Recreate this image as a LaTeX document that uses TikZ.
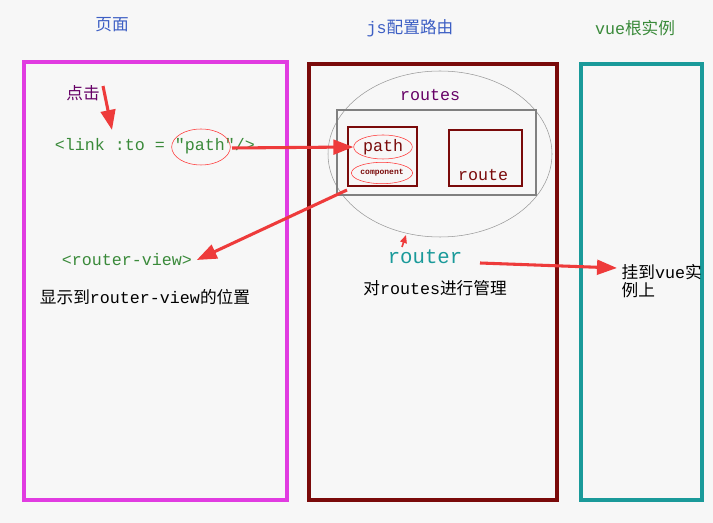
\documentclass[tikz,border=0pt]{standalone}
\usepackage{fontspec}
\setmonofont{Liberation Mono}
\newfontfamily\cjk{Noto Sans CJK SC}
\usetikzlibrary{arrows.meta, positioning, shapes.geometric}

\begin{document}
\begin{tikzpicture}[x=0.75pt, y=-0.75pt,
    panel_style/.style={draw, line width=2.5pt},
    box_style/.style={draw=darkred, line width=2.2pt},
    mono_style/.style={font=\ttfamily\fontsize{12.5}{14}\selectfont},
    cjk_style/.style={font=\cjk\fontsize{12.5}{14}\selectfont},
    ring_style/.style={ellipse, draw=red!80, thin, inner sep=0pt},
    red_arrow/.style={draw=arrowred, line width=2.3pt, -{Triangle[length=15pt, width=11pt]}}
]
\definecolor{darkred}{HTML}{7A0A0A}
\definecolor{arrowred}{HTML}{EE3B3B}
\definecolor{titleblue}{HTML}{3D5FC4}
\definecolor{titlegreen}{HTML}{3A8A3A}
\definecolor{codegreen}{HTML}{3A8A3A}
\definecolor{routerteal}{HTML}{1A9A9A}

% background
\fill[gray!6] (0,0) rectangle (713,523);
\useasboundingbox (0,0) rectangle (713,523);

% titles
\node[cjk_style, text=titleblue] (t_page) at (112,25) {页面};
\node[text=titleblue, font=\fontsize{12.5}{14}\selectfont] (t_js) at (410,28) {{\ttfamily js}{\cjk 配置路由}};
\node[text=titlegreen, font=\fontsize{12.5}{14}\selectfont] (t_vue) at (635,28) {{\ttfamily vue}{\cjk 根实例}};

% three panels
\draw[panel_style, draw={rgb,255:red,225;green,60;blue,225}] (24,62) rectangle (287,500);
\draw[panel_style, draw=darkred] (309,64) rectangle (557,500);
\draw[panel_style, draw=routerteal] (581,64) rectangle (702,500);

% routes container
\draw[gray!80, thin] (440,154) ellipse (112 and 83);
\node[mono_style, text=violet!80!black] (routes) at (430,95) {routes};
\draw[gray, line width=2.2pt] (337,110) rectangle (536,195);
\draw[box_style] (348,127) rectangle (417,186);
\draw[box_style] (449,130) rectangle (522,186);
\node[mono_style, text=darkred, ring_style, minimum width=44pt, minimum height=18pt] (path_in) at (383,147) {path};
\node[text=darkred, ring_style, font=\ttfamily\bfseries\fontsize{6}{7}\selectfont, minimum width=44pt, minimum height=16pt] (component) at (382,173) {component};
\node[mono_style, text=darkred] (route) at (483,175) {route};

% left panel
\node[cjk_style, text=violet!80!black] (click) at (83,93) {点击};
\node[mono_style, text=codegreen] (link) at (155,146) {<link :to = "path"/>};
\node[ring_style, minimum width=44pt, minimum height=27pt] (path_ring) at (201,147) {};
\node[mono_style, text=codegreen] (view) at (127,260) {<router-view>};
\node[font=\fontsize{12.5}{14}\selectfont] (show) at (145,297) {{\cjk 显示到}{\ttfamily router-view}{\cjk 的位置}};

% middle panel
\node[text=routerteal, font=\ttfamily\fontsize{15.5}{17}\selectfont] (router) at (425,257) {router};
\node[font=\fontsize{12.5}{14}\selectfont] (manage) at (435,288) {{\cjk 对}{\ttfamily routes}{\cjk 进行管理}};

% right panel
\node[font=\fontsize{12.5}{14}\selectfont, align=left, anchor=west] (mount) at (617,281) {{\cjk 挂到}{\ttfamily vue}{\cjk 实}\\{\cjk 例上}};

% arrows
\coordinate (click_end) at (103,86);
\coordinate (link_top) at (112,130);
\coordinate (link_end) at (232,148);
\coordinate (box_corner) at (347,190);
\coordinate (ring_low) at (406,235);
\coordinate (router_low) at (402,247);
\coordinate (router_end) at (480,263);
\draw[red_arrow] (click_end) -- (link_top);
\draw[red_arrow] (link_end) -- (path_in.west);
\draw[red_arrow] (box_corner) -- (view.east);
\draw[draw=arrowred, line width=1.2pt, -{Triangle[length=6pt, width=5pt]}] (router_low) -- (ring_low);
\draw[red_arrow] (router_end) -- (mount.west |- 268,268);
\end{tikzpicture}
\end{document}
